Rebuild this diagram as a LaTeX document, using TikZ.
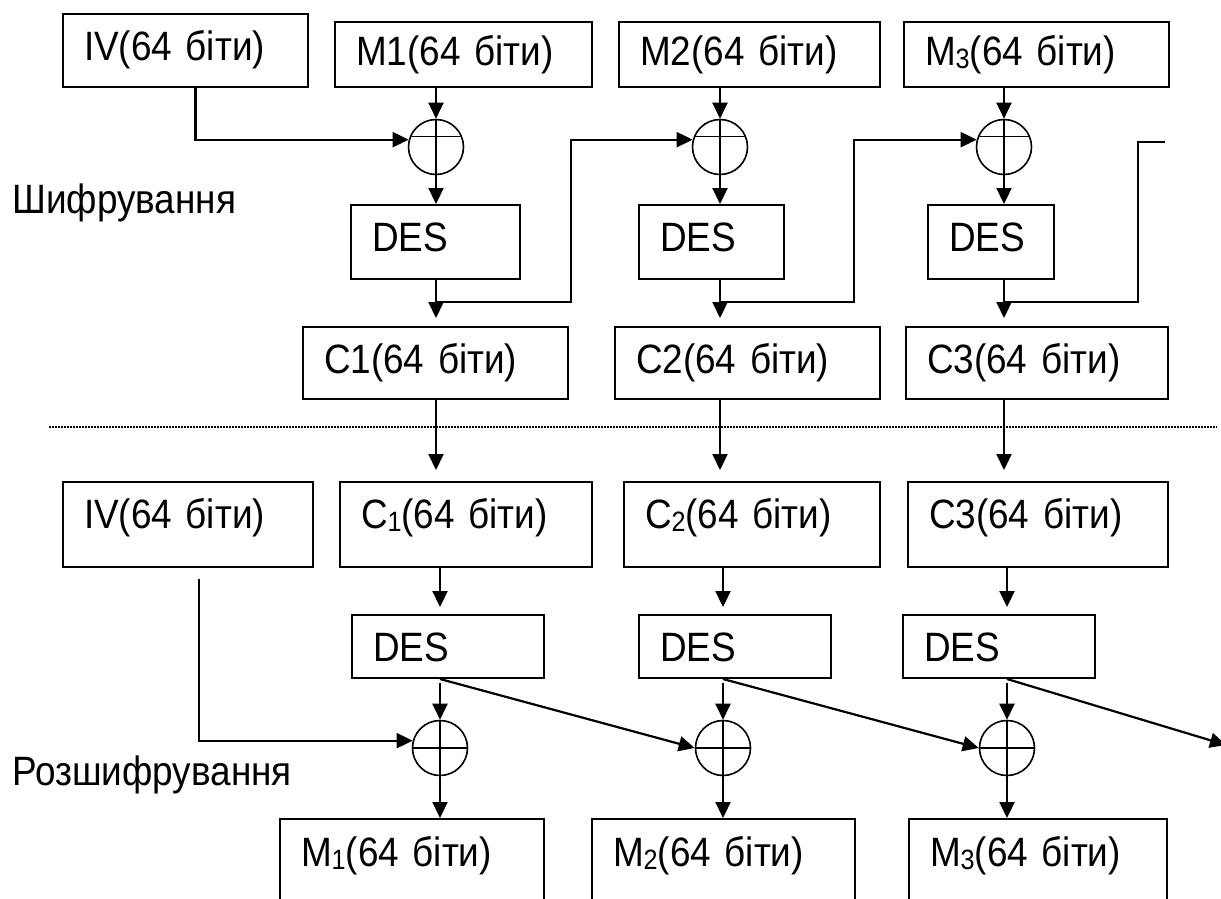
\documentclass[tikz,border=0pt]{standalone}
\usepackage{fontspec}
\setmainfont{Liberation Sans}[FakeStretch=0.9, WordSpace=0.75]
\usetikzlibrary{arrows.meta}
\newcommand\idx[1]{\raisebox{-3pt}{\fontsize{28}{28}\selectfont #1}}
\tikzset{
    box/.style={draw, line width=2pt, anchor=north west, align=left,
        inner ysep=0pt, inner xsep=21pt, font=\fontsize{41}{44}\selectfont},
    ivA/.style={text height=47pt, text depth=26pt},
    rowA/.style={text height=44pt, text depth=21pt},
    desA/.style={text height=46pt, text depth=28pt},
    rowC/.style={text height=46pt, text depth=26pt},
    rowB/.style={text height=46pt, text depth=39pt},
    desB/.style={text height=46pt, text depth=17pt},
    rowM/.style={text height=47pt, text depth=60pt},
    xor/.style={draw, circle, line width=1.6pt, minimum size=55pt, inner sep=0pt},
    arr/.style={line width=2.2pt, -{Triangle[length=16pt,width=15pt]}},
    ln/.style={line width=2.2pt},
    lbl/.style={font=\fontsize{41}{44}\selectfont, inner sep=0pt},
}
\begin{document}
\begin{tikzpicture}[x=1pt, y=-1pt]
\useasboundingbox (0,0) rectangle (1221,899);

% Verschluesselung
\node[lbl, anchor=base west] (enc) at (12,213) {Шифрування};
\node[box, ivA, text width=203pt] (iv1) at (62,13) {IV(64 біти)};
\node[box, rowA, text width=215pt] (m1) at (334,21) {M1(64 біти)};
\node[box, rowA, text width=219pt] (m2) at (618,21) {M2(64 біти)};
\node[box, rowA, text width=223pt] (m3) at (903,21) {M\idx{3}(64 біти)};

\node[xor] (e1) at (436,147) {};
\node[xor] (e2) at (720,147) {};
\node[xor] (e3) at (1004,147) {};

\node[box, desA, text width=127pt] (des1) at (350,204) {DES};
\node[box, desA, text width=103pt] (des2) at (638,204) {DES};
\node[box, desA, text width=84pt] (des3) at (927,204) {DES};

\node[box, rowC, text width=223pt] (c1) at (302,326) {C1(64 біти)};
\node[box, rowC, text width=223pt] (c2) at (614,326) {C2(64 біти)};
\node[box, rowC, text width=220pt] (c3) at (905,326) {C3(64 біти)};

% XOR oben
\foreach \k in {1,2,3} {
    \draw[arr] (e\k |- m\k.south) -- (e\k.north);
    \draw[arr] (e\k.north) -- (e\k |- des\k.north);
    \draw[line width=1.6pt] (e\k.158) -- (e\k.22);
    \draw[arr, shorten >=8pt] (e\k |- des\k.south) -- (e\k |- c\k.north);
}
\draw[arr] ([xshift=10pt]iv1.south) |- (e1.165);

% Rueckfuehrung
\coordinate (f1) at (571,302);
\coordinate (f2) at (854,302);
\coordinate (f3) at (1138,302);
\coordinate (f4) at (1165,142);
\draw[arr] (e1 |- f1) -- (f1) |- (e2.165);
\draw[arr] (e2 |- f2) -- (f2) |- (e3.165);
\draw[line width=1.6pt] (e3 |- f3) -- (f3) |- (f4);

% Trennlinie
\coordinate (l1) at (49,427);
\coordinate (l2) at (1217,427);
\draw[line width=1.2pt, dash pattern=on 1.5pt off 1.5pt] (l1) -- (l2);

% Entschluesselung
\node[lbl, anchor=base west] (dec) at (12,785) {Розшифрування};
\node[box, rowB, text width=208pt] (iv2) at (62,481) {IV(64 біти)};
\node[box, rowB, text width=210pt] (c1b) at (339,481) {C\idx{1}(64 біти)};
\node[box, rowB, text width=214pt] (c2b) at (623,481) {C\idx{2}(64 біти)};
\node[box, rowB, text width=218pt] (c3b) at (907,481) {C3(64 біти)};

\node[box, desB, text width=150pt] (des1b) at (351,614) {DES};
\node[box, desB, text width=150pt] (des2b) at (638,614) {DES};
\node[box, desB, text width=150pt] (des3b) at (902,614) {DES};

\node[xor] (d1) at (440,748) {};
\node[xor] (d2) at (723,748) {};
\node[xor] (d3) at (1007,748) {};

\node[box, rowM, text width=222pt] (m1b) at (279,818) {M\idx{1}(64 біти)};
\node[box, rowM, text width=221pt] (m2b) at (591,818) {M\idx{2}(64 біти)};
\node[box, rowM, text width=216pt] (m3b) at (908,818) {M\idx{3}(64 біти)};

\foreach \k in {1,2,3} {
    \draw[arr, shorten >=11pt] (e\k |- c\k.south) -- (e\k |- c\k b.north);
    \draw[arr, shorten >=7pt] (d\k |- c\k b.south) -- (d\k |- des\k b.north);
    \draw[arr, shorten <=4pt] (d\k |- des\k b.south) -- (d\k.north);
    \draw[arr] (d\k.north) -- (d\k |- m\k b.north);
    \draw[line width=1.6pt] (d\k.west) -- (d\k.east);
}
\draw[arr, shorten <=11pt] ([xshift=11pt]iv2.south) |- (d1.165);

% Diagonalen
\coordinate (out) at (1226,745);
\draw[arr] (d1 |- des1b.south) -- (d2.west);
\draw[arr] (d2 |- des2b.south) -- (d3.west);
\draw[arr] (d3 |- des3b.south) -- (out);
\end{tikzpicture}
\end{document}
